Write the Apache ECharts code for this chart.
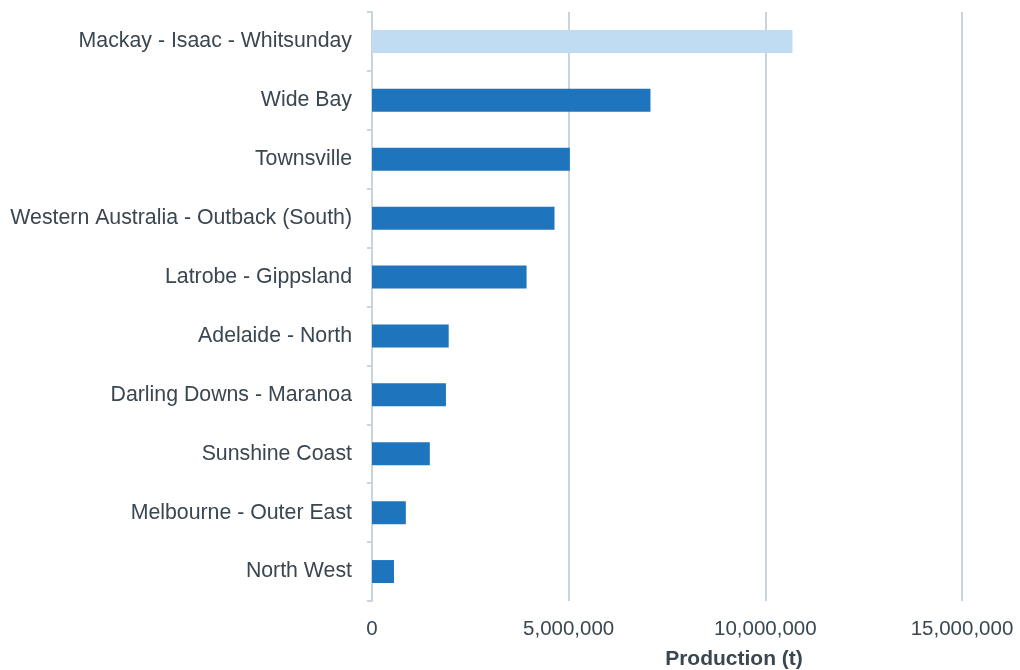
<!DOCTYPE html>
<html>
<head>
<meta charset="utf-8">
<script src="https://cdn.jsdelivr.net/npm/echarts@6/dist/echarts.min.js"></script>
<style>
  html, body { margin: 0; padding: 0; background: #fff; }
  #chart { width: 1020px; height: 670px; }
</style>
</head>
<body>
<div id="chart"></div>
<script>
// 区域（从上到下）
const regions = [
    'Mackay - Isaac - Whitsunday',
    'Wide Bay',
    'Townsville',
    'Western Australia - Outback (South)',
    'Latrobe - Gippsland',
    'Adelaide - North',
    'Darling Downs - Maranoa',
    'Sunshine Coast',
    'Melbourne - Outer East',
    'North West'
];
const production = [10690000, 7080000, 5030000, 4640000, 3930000, 1950000, 1880000, 1470000, 860000, 560000];
const highlighted = ['Mackay - Isaac - Whitsunday'];

const textColor = '#3a4650';
const lineColor = '#c9d4dc';

const chart = echarts.init(document.getElementById('chart'));

const option = {
    backgroundColor: '#fff',
    animation: false,
    textStyle: { fontFamily: 'Liberation Sans, Arial, sans-serif' },
    grid: { left: 372, right: 58, top: 12, bottom: 69, outerBoundsMode: 'none' },
    xAxis: {
        type: 'value',
        min: 0,
        max: 15000000,
        interval: 5000000,
        name: 'Production (t)',
        nameLocation: 'middle',
        nameGap: 48,
        nameTextStyle: {
            color: textColor,
            fontSize: 21,
            fontWeight: 'bold',
            padding: [0, 0, 0, 134]
        },
        axisLine: { show: false },
        axisTick: { show: false },
        axisLabel: {
            color: textColor,
            fontSize: 20.5,
            margin: 18,
            formatter: v => v.toLocaleString('en-US')
        },
        splitLine: { show: true, lineStyle: { color: lineColor, width: 2 } }
    },
    yAxis: {
        type: 'category',
        inverse: true,
        data: regions,
        axisLine: { show: true, lineStyle: { color: lineColor, width: 2 } },
        axisTick: { show: true, length: 5, lineStyle: { color: lineColor, width: 2 } },
        axisLabel: { color: textColor, fontSize: 21.3, margin: 20 }
    },
    series: [{
        type: 'bar',
        barWidth: 23,
        data: production.map((v, i) => ({
            value: v,
            itemStyle: { color: highlighted.includes(regions[i]) ? '#bfdcf3' : '#1f75bd' }
        }))
    }]
};

chart.setOption(option);
</script>
</body>
</html>
